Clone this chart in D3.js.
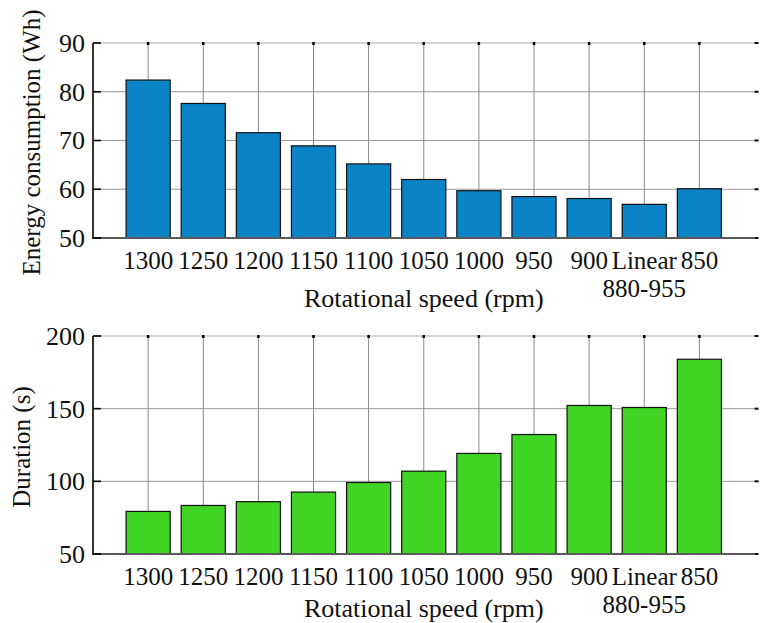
<!DOCTYPE html>
<html>
<head>
<meta charset="utf-8">
<script src="https://cdn.jsdelivr.net/npm/d3@7"></script>
<style>
    body { margin: 0; background: #fff; }
    text { font-family: "Liberation Serif", "Times New Roman", serif; fill: #111; }
</style>
</head>
<body>
<div id="chart"></div>
<script>
// Categories (tick labels, one array of lines per bar)
const speedLabels = [
    ['1300'], ['1250'], ['1200'], ['1150'], ['1100'], ['1050'],
    ['1000'], ['950'], ['900'], ['Linear', '880-955'], ['850']
];

// Series values
const energyWh  = [82.4, 77.6, 71.6, 68.9, 65.2, 62.0, 59.7, 58.5, 58.1, 56.9, 60.1];
const durationS = [79.3, 83.4, 86.0, 92.6, 99.2, 107.0, 119.2, 132.2, 152.2, 150.8, 184.0];

// Y ticks
const energyTicks   = [50, 60, 70, 80, 90];
const durationTicks = [50, 100, 150, 200];

const W = 765, H = 623;
const tickSize = 25;
const titleSize = 26;
const yLabelSize = 25;

var svg = d3.select("#chart")
    .append("svg")
        .attr("width", W)
        .attr("height", H);

// shared x scale: bars sit at 1..11 on a 0..12 axis
const xScale = d3.scaleLinear()
    .domain([0, speedLabels.length + 1])
    .range([93, 754.5]);

const barWidth = 0.8;

/**
 * Draw one bar panel
 */
function drawPanel(cfg) {
    const yScale = d3.scaleLinear()
        .domain([cfg.ticks[0], cfg.ticks[cfg.ticks.length - 1]])
        .range([cfg.bottom, cfg.top]);

    const g = svg.append("g");
    const x0 = xScale.range()[0], x1 = xScale.range()[1];

    // horizontal grid
    g.selectAll("line.hgrid")
        .data(cfg.ticks.slice(1))
        .join("line")
            .attr("x1", x0).attr("x2", x1)
            .attr("y1", d => yScale(d)).attr("y2", d => yScale(d))
            .attr("stroke", (d, i) => i === cfg.ticks.length - 2 ? "#aaa" : "#999")
            .attr("stroke-width", 1);

    // vertical grid
    g.selectAll("line.vgrid")
        .data(speedLabels)
        .join("line")
            .attr("x1", (d, i) => xScale(i + 1)).attr("x2", (d, i) => xScale(i + 1))
            .attr("y1", cfg.top).attr("y2", cfg.bottom)
            .attr("stroke", "#888")
            .attr("stroke-width", 1);

    // bars
    g.selectAll("rect")
        .data(cfg.values)
        .join("rect")
            .attr("x", (d, i) => xScale(i + 1 - barWidth / 2))
            .attr("width", (d, i) => xScale(i + 1 + barWidth / 2) - xScale(i + 1 - barWidth / 2))
            .attr("y", d => yScale(d))
            .attr("height", d => cfg.bottom - yScale(d))
            .attr("fill", cfg.color)
            .attr("stroke", "#111")
            .attr("stroke-width", 1.2);

    // bottom axis line (grey) and left axis line (black)
    g.append("line")
        .attr("x1", x0).attr("x2", x1)
        .attr("y1", cfg.bottom).attr("y2", cfg.bottom)
        .attr("stroke", "#5a5a5a").attr("stroke-width", 2);
    g.append("line")
        .attr("x1", x0).attr("x2", x0)
        .attr("y1", cfg.top).attr("y2", cfg.bottom + 1)
        .attr("stroke", "#000").attr("stroke-width", 1.6);

    // small black tick marks: left (inward), right, top
    g.selectAll("line.lt")
        .data(cfg.ticks)
        .join("line")
            .attr("x1", x0).attr("x2", x0 + 8)
            .attr("y1", d => yScale(d)).attr("y2", d => yScale(d))
            .attr("stroke", "#000").attr("stroke-width", 1.6);
    g.selectAll("line.rt")
        .data(cfg.ticks)
        .join("line")
            .attr("x1", x1).attr("x2", x1 + 4)
            .attr("y1", d => yScale(d)).attr("y2", d => yScale(d))
            .attr("stroke", "#000").attr("stroke-width", 2);
    g.selectAll("line.tt")
        .data(speedLabels)
        .join("line")
            .attr("x1", (d, i) => xScale(i + 1)).attr("x2", (d, i) => xScale(i + 1))
            .attr("y1", cfg.top - 1).attr("y2", cfg.top + 2)
            .attr("stroke", "#000").attr("stroke-width", 2.5);

    // y tick labels
    g.selectAll("text.ytick")
        .data(cfg.ticks)
        .join("text")
            .attr("x", 85)
            .attr("y", d => yScale(d))
            .attr("dy", "0.34em")
            .attr("text-anchor", "end")
            .attr("font-size", titleSize)
            .text(d => d);

    // x tick labels (multi-line)
    const xt = g.selectAll("text.xtick")
        .data(speedLabels)
        .join("text")
            .attr("x", (d, i) => xScale(i + 1))
            .attr("y", cfg.bottom + 31)
            .attr("text-anchor", "middle")
            .attr("font-size", tickSize);
    xt.selectAll("tspan")
        .data(d => d)
        .join("tspan")
            .attr("x", function () { return d3.select(this.parentNode).attr("x"); })
            .attr("dy", (d, i) => i === 0 ? 0 : 28)
            .text(d => d);

    // axis titles
    g.append("text")
        .attr("x", (x0 + x1) / 2)
        .attr("y", Math.min(cfg.bottom + 69, H - 6))
        .attr("text-anchor", "middle")
        .attr("font-size", titleSize)
        .text("Rotational speed (rpm)");

    g.append("text")
        .attr("transform", `translate(${cfg.yLabelX}, ${(cfg.top + cfg.bottom) / 2 + 2}) rotate(-90)`)
        .attr("text-anchor", "middle")
        .attr("font-size", yLabelSize)
        .text(cfg.yLabel);
}

drawPanel({
    values: energyWh,
    ticks: energyTicks,
    top: 43, bottom: 238,
    color: "#0a83c7",
    yLabel: "Energy consumption (Wh)",
    yLabelX: 40
});

drawPanel({
    values: durationS,
    ticks: durationTicks,
    top: 336, bottom: 554,
    color: "#40d424",
    yLabel: "Duration (s)",
    yLabelX: 30
});
</script>
</body>
</html>
